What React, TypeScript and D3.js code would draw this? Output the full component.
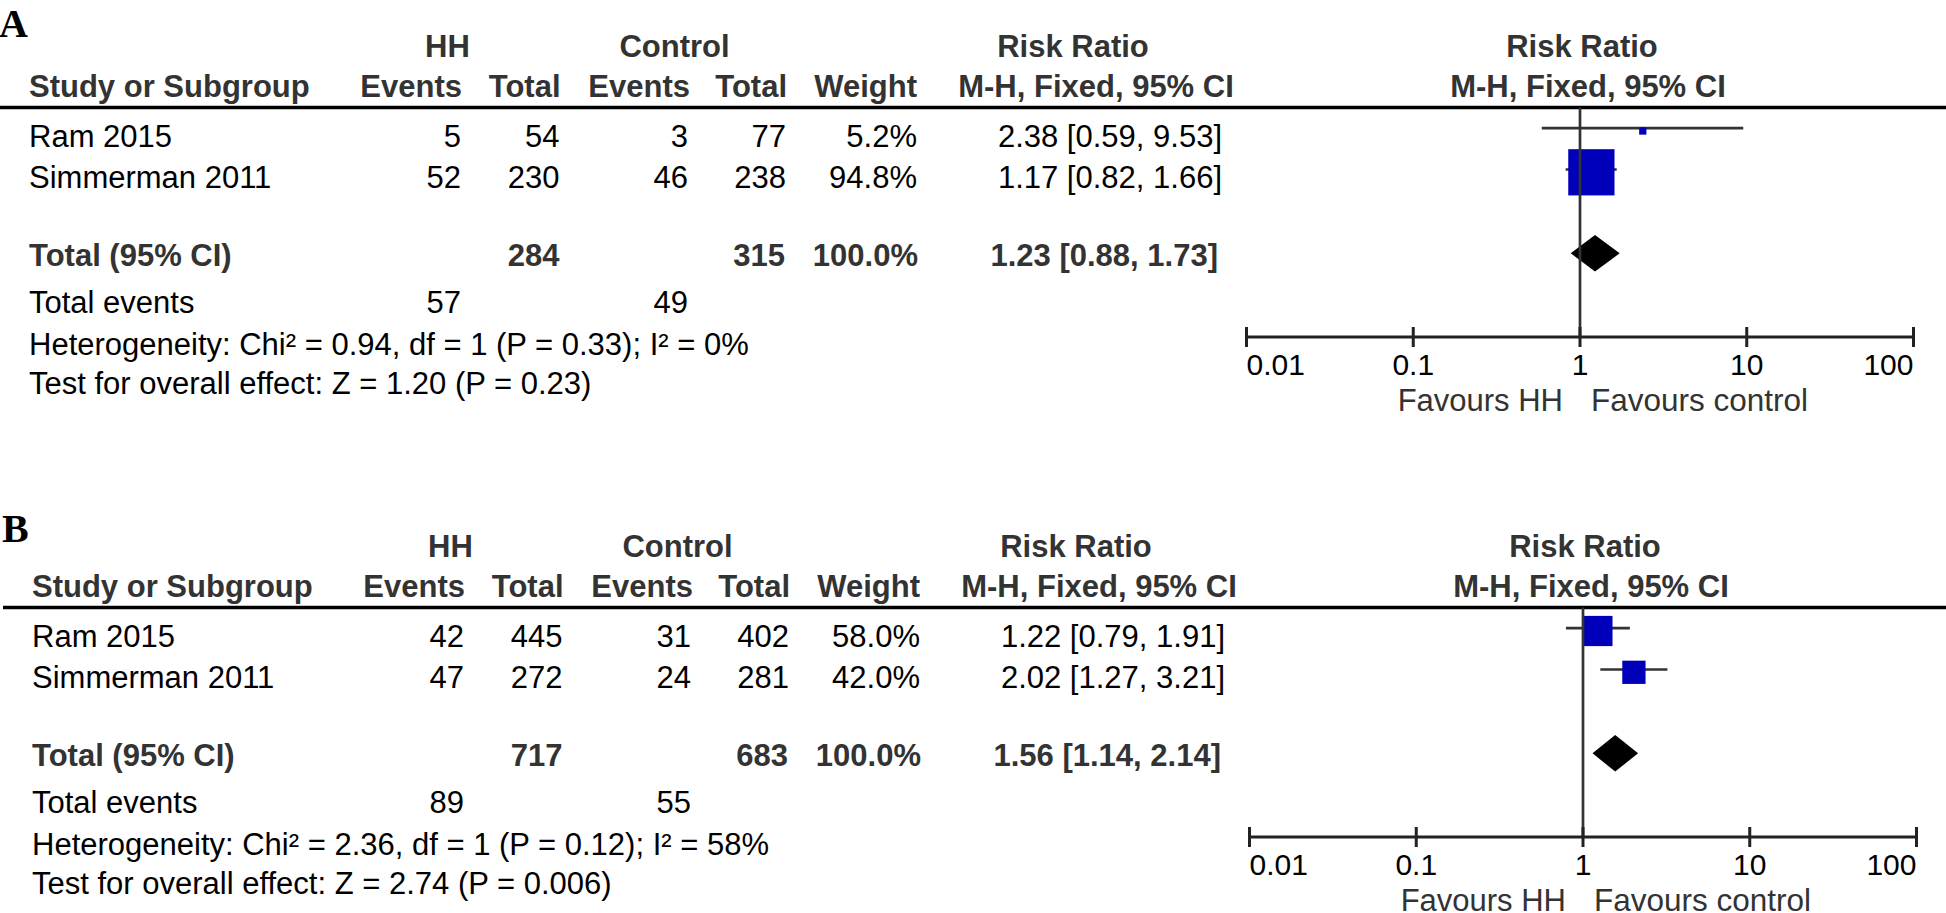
import React from 'react';
import * as d3 from 'd3';

// ---------- data ----------
const studies = ['Ram 2015', 'Simmerman 2011'];
const tickValues = [0.01, 0.1, 1, 10, 100];
const tickLabels = ['0.01', '0.1', '1', '10', '100'];

// Panel A
const aHHEvents = [5, 52];
const aHHTotal = [54, 230];
const aCtrlEvents = [3, 46];
const aCtrlTotal = [77, 238];
const aWeight = [5.2, 94.8];
const aRR = [2.38, 1.17];
const aLow = [0.59, 0.82];
const aHigh = [9.53, 1.66];
const aPooled = [1.23, 0.88, 1.73];
const aTotals = [284, 315, 100.0];
const aTotalEvents = [57, 49];
const aHeterogeneity = 'Heterogeneity: Chi² = 0.94, df = 1 (P = 0.33); I² = 0%';
const aOverall = 'Test for overall effect: Z = 1.20 (P = 0.23)';

// Panel B
const bHHEvents = [42, 47];
const bHHTotal = [445, 272];
const bCtrlEvents = [31, 24];
const bCtrlTotal = [402, 281];
const bWeight = [58.0, 42.0];
const bRR = [1.22, 2.02];
const bLow = [0.79, 1.27];
const bHigh = [1.91, 3.21];
const bPooled = [1.56, 1.14, 2.14];
const bTotals = [717, 683, 100.0];
const bTotalEvents = [89, 55];
const bHeterogeneity = 'Heterogeneity: Chi² = 2.36, df = 1 (P = 0.12); I² = 58%';
const bOverall = 'Test for overall effect: Z = 2.74 (P = 0.006)';

const panels = [
  {
    letter: 'A', dy: 0, dx: 0, letterY: 37,
    hhEvents: aHHEvents, hhTotal: aHHTotal, ctrlEvents: aCtrlEvents, ctrlTotal: aCtrlTotal,
    weight: aWeight, rr: aRR, low: aLow, high: aHigh, pooled: aPooled, totals: aTotals,
    totalEvents: aTotalEvents, het: aHeterogeneity, overall: aOverall,
  },
  {
    letter: 'B', dy: 500, dx: 3, letterY: 542,
    hhEvents: bHHEvents, hhTotal: bHHTotal, ctrlEvents: bCtrlEvents, ctrlTotal: bCtrlTotal,
    weight: bWeight, rr: bRR, low: bLow, high: bHigh, pooled: bPooled, totals: bTotals,
    totalEvents: bTotalEvents, het: bHeterogeneity, overall: bOverall,
  },
];

// ---------- layout ----------
const W = 1946;
const H = 913;
const SANS = "'Liberation Sans', Arial, Helvetica, sans-serif";
const SERIF = "'Liberation Serif', 'Times New Roman', serif";
const FS = 31;
const BOLD_COLOR = '#333';
const rowOffsets = [0, 41.3, 119.3, 166.7, 208, 247];

const fmtCI = (r: number, l: number, h: number) =>
  `${r.toFixed(2)} [${l.toFixed(2)}, ${h.toFixed(2)}]`;

function Panel({ p }: { p: any }) {
  const { dx, dy } = p;
  const x = d3.scaleLog().domain([0.01, 100]).range([1246.5 + dx, 1913.5 + dx]);
  const box = d3.scaleLinear().domain([0, 100]).range([5, 48.5]);
  const rowY = (i: number) => dy + 146.5 + rowOffsets[i];
  const hdr1 = dy + 57;
  const hdr2 = dy + 97;
  const lineY = dy + 107.5;
  const axisY = dy + 337;
  const col = {
    label: 29 + dx,
    hhEv: 461 + dx,
    hhTot: 559.5 + dx,
    ctEv: 688 + dx,
    ctTot: 786 + dx,
    weight: 917 + dx,
    ci: 1222 + dx,
  };

  const bold = { fontWeight: 'bold' as const, fill: BOLD_COLOR };

  const pooledY = rowY(2) - 12.5;
  const dh = 18.3;
  const [pr, pl, ph] = p.pooled;
  const diamond = d3.line()([
    [x(pl), pooledY],
    [x(pr), pooledY - dh],
    [x(ph), pooledY],
    [x(pr), pooledY + dh],
  ]) + 'Z';

  return (
    <g fontFamily={SANS} fontSize={FS}>
      <text x={dx - 1} y={p.letterY} fontFamily={SERIF} fontWeight="bold" fontSize={40} fill="#000">
        {p.letter}
      </text>

      {/* header row 1 */}
      <text x={447.5 + dx} y={hdr1} textAnchor="middle" {...bold}>HH</text>
      <text x={674.5 + dx} y={hdr1} textAnchor="middle" {...bold}>Control</text>
      <text x={col.ci - 149} y={hdr1} textAnchor="middle" {...bold}>Risk Ratio</text>
      <text x={x(1) + 2} y={hdr1} textAnchor="middle" {...bold}>Risk Ratio</text>

      {/* header row 2 */}
      <text x={col.label} y={hdr2} {...bold}>Study or Subgroup</text>
      <text x={col.hhEv + 1} y={hdr2} textAnchor="end" {...bold}>Events</text>
      <text x={col.hhTot + 1} y={hdr2} textAnchor="end" {...bold}>Total</text>
      <text x={col.ctEv + 2} y={hdr2} textAnchor="end" {...bold}>Events</text>
      <text x={col.ctTot + 1} y={hdr2} textAnchor="end" {...bold}>Total</text>
      <text x={col.weight} y={hdr2} textAnchor="end" {...bold}>Weight</text>
      <text x={col.ci - 126} y={hdr2} textAnchor="middle" {...bold}>M-H, Fixed, 95% CI</text>
      <text x={x(1) + 8} y={hdr2} textAnchor="middle" {...bold}>M-H, Fixed, 95% CI</text>

      <line x1={dx} x2={W} y1={lineY} y2={lineY} stroke="#000" strokeWidth={3.3} />

      {/* study rows */}
      {studies.map((s, i) => {
        const y = rowY(i);
        const ly = y - 18.3;
        const size = box(p.weight[i]);
        return (
          <g key={s}>
            <text x={col.label} y={y} fill="#000">{s}</text>
            <text x={col.hhEv} y={y} textAnchor="end" fill="#000">{p.hhEvents[i]}</text>
            <text x={col.hhTot} y={y} textAnchor="end" fill="#000">{p.hhTotal[i]}</text>
            <text x={col.ctEv} y={y} textAnchor="end" fill="#000">{p.ctrlEvents[i]}</text>
            <text x={col.ctTot} y={y} textAnchor="end" fill="#000">{p.ctrlTotal[i]}</text>
            <text x={col.weight} y={y} textAnchor="end" fill="#000">{p.weight[i].toFixed(1)}%</text>
            <text x={col.ci} y={y} textAnchor="end" fill="#000">{fmtCI(p.rr[i], p.low[i], p.high[i])}</text>
            <line x1={x(p.low[i])} x2={x(p.high[i])} y1={ly} y2={ly} stroke="#333" strokeWidth={2.7} />
            <rect
              x={x(p.rr[i]) - size / 2}
              y={ly + 2.8 - size / 2}
              width={size}
              height={size}
              fill="#0000bb"
            />
          </g>
        );
      })}

      {/* total row */}
      <text x={col.label} y={rowY(2)} {...bold}>Total (95% CI)</text>
      <text x={col.hhTot} y={rowY(2)} textAnchor="end" {...bold}>{p.totals[0]}</text>
      <text x={col.ctTot - 1} y={rowY(2)} textAnchor="end" {...bold}>{p.totals[1]}</text>
      <text x={col.weight + 1} y={rowY(2)} textAnchor="end" {...bold}>{p.totals[2].toFixed(1)}%</text>
      <text x={col.ci - 4} y={rowY(2)} textAnchor="end" {...bold}>{fmtCI(pr, pl, ph)}</text>
      <path d={diamond} fill="#000" />

      {/* totals */}
      <text x={col.label} y={rowY(3)} fill="#000">Total events</text>
      <text x={col.hhEv} y={rowY(3)} textAnchor="end" fill="#000">{p.totalEvents[0]}</text>
      <text x={col.ctEv} y={rowY(3)} textAnchor="end" fill="#000">{p.totalEvents[1]}</text>
      <text x={col.label} y={rowY(4)} fill="#000">{p.het}</text>
      <text x={col.label} y={rowY(5)} fill="#000">{p.overall}</text>

      {/* null line */}
      <line x1={x(1)} x2={x(1)} y1={lineY} y2={axisY} stroke="#333" strokeWidth={2.7} />

      {/* axis */}
      <line x1={x(0.01)} x2={x(100)} y1={axisY} y2={axisY} stroke="#222" strokeWidth={3} />
      {tickValues.map((t, i) => (
        <g key={t}>
          <line x1={x(t)} x2={x(t)} y1={axisY - 10} y2={axisY + 10} stroke="#222" strokeWidth={3} />
          <text
            x={x(t)}
            y={dy + 375}
            fontSize={30}
            fill="#000"
            textAnchor={i === 0 ? 'start' : i === tickValues.length - 1 ? 'end' : 'middle'}
          >
            {tickLabels[i]}
          </text>
        </g>
      ))}
      <text x={x(1) - 17} y={dy + 411} fontSize={31} fill="#333" textAnchor="end">Favours HH</text>
      <text x={x(1) + 11} y={dy + 411} fontSize={31.5} fill="#333">Favours control</text>
    </g>
  );
}

export default function App() {
  return (
    <svg
      width={W}
      height={H}
      viewBox={`0 0 ${W} ${H}`}
      style={{ position: 'absolute', left: 0, top: 0, background: '#fff', display: 'block' }}
    >
      <rect x={0} y={0} width={W} height={H} fill="#fff" />
      {panels.map((p) => (
        <Panel key={p.letter} p={p} />
      ))}
    </svg>
  );
}
